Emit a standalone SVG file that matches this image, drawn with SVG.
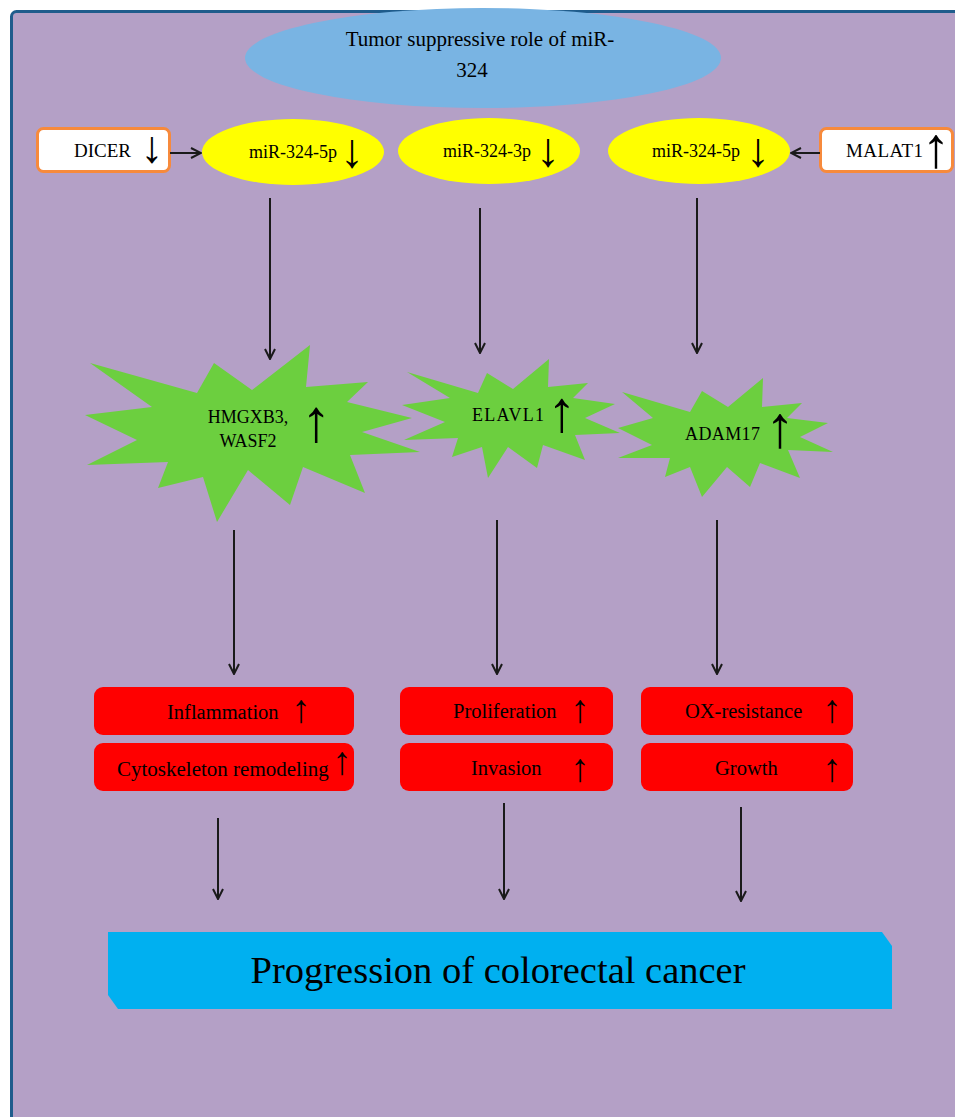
<svg xmlns="http://www.w3.org/2000/svg" width="955" height="1117" viewBox="0 0 955 1117">
<defs>
<style>
.t{font-family:"Liberation Serif","Times New Roman",serif;fill:#000;}
.c{stroke:#1a1a1a;stroke-width:2;fill:none;}
.star{fill:#6ccf3f;}
.red{fill:#ff0000;}
.mir{fill:#ffff00;}
.box{fill:#ffffff;stroke:#f78a3c;stroke-width:3;}
.ar{font-family:"Liberation Serif","Times New Roman",serif;fill:#000;text-anchor:middle;}
</style>
<marker id="ah" viewBox="0 0 12 12" refX="11" refY="6" markerWidth="12" markerHeight="12" markerUnits="userSpaceOnUse" orient="auto">
<path d="M1,1 L11,6 L1,11" fill="none" stroke="#1a1a1a" stroke-width="2"/>
</marker>
</defs>
<rect x="0" y="0" width="955" height="1117" fill="#ffffff"/>
<rect x="11.5" y="11.5" width="1000" height="1200" rx="5" fill="#b4a0c6" stroke="#1f5c8c" stroke-width="3"/>

<g id="title">
<ellipse cx="483" cy="58" rx="238" ry="50" fill="#79b4e3"/>
<text class="t" x="480" y="46" font-size="21" text-anchor="middle">Tumor suppressive role of miR-</text>
<text class="t" x="472" y="77" font-size="21" text-anchor="middle">324</text>
</g>

<g id="dicer">
<rect class="box" x="37.5" y="128.5" width="132" height="43" rx="6"/>
<text class="t" x="74" y="157" font-size="19">DICER</text>
<text class="ar" x="152" y="162" font-size="45">↓</text>
</g>

<g id="mir324-5p-left">
<ellipse class="mir" cx="293" cy="152" rx="91" ry="33"/>
<text class="t" x="249" y="158" font-size="18">miR-324-5p</text>
<text class="ar" x="352" y="167" font-size="48">↓</text>
</g>

<g id="mir324-3p">
<ellipse class="mir" cx="489" cy="151" rx="91" ry="33"/>
<text class="t" x="443" y="157" font-size="18">miR-324-3p</text>
<text class="ar" x="548" y="166" font-size="48">↓</text>
</g>

<g id="mir324-5p-right">
<ellipse class="mir" cx="699" cy="151" rx="91" ry="33"/>
<text class="t" x="652" y="157" font-size="18">miR-324-5p</text>
<text class="ar" x="758" y="166" font-size="48">↓</text>
</g>

<g id="malat1">
<rect class="box" x="820.5" y="128.5" width="132" height="43" rx="6"/>
<text class="t" x="846" y="157" font-size="19" textLength="77" lengthAdjust="spacing">MALAT1</text>
<text class="ar" x="936" y="167" font-size="57">↑</text>
</g>

<g id="hmgxb3">
<polygon class="star" points="90,363 197,393 214,363 252,390 310,345 306,387 368,382 347,402 412,418 362,432 420,452 350,455 365,493 303,467 290,505 248,470 217,522 203,477 158,488 168,462 87,465 137,440 85,415 152,407"/>
<text class="t" x="248" y="423" font-size="18" text-anchor="middle">HMGXB3,</text>
<text class="t" x="248" y="447" font-size="18" text-anchor="middle">WASF2</text>
<text class="ar" x="316" y="441" font-size="60">↑</text>
</g>

<g id="elavl1">
<polygon class="star" points="407,372 478,393 487,373 513,389 549,359 548,387 588,383 573,398 615,404 585,418 620,433 575,435 585,460 543,445 537,468 508,447 488,478 482,447 452,457 458,438 404,440 445,422 402,405 450,398"/>
<text class="t" x="472" y="421" font-size="18" textLength="72" lengthAdjust="spacing">ELAVL1</text>
<text class="ar" x="562" y="431" font-size="58">↑</text>
</g>

<g id="adam17">
<polygon class="star" points="622,392 690,412 702,391 728,407 763,378 762,407 802,403 787,418 828,423 800,437 833,452 788,450 800,478 760,463 750,487 727,467 702,497 690,467 665,477 670,458 618,458 652,445 618,428 653,418"/>
<text class="t" x="685" y="440" font-size="18" textLength="75" lengthAdjust="spacing">ADAM17</text>
<text class="ar" x="780" y="447" font-size="59">↑</text>
</g>

<g id="inflammation">
<rect class="red" x="94" y="687" width="260" height="48" rx="9"/>
<text class="t" x="167" y="719" font-size="20.5">Inflammation</text>
<text class="ar" x="301" y="722" font-size="39">↑</text>
</g>
<g id="cytoskeleton">
<rect class="red" x="94" y="743" width="260" height="48" rx="9"/>
<text class="t" x="117" y="776" font-size="21">Cytoskeleton remodeling</text>
<text class="ar" x="342" y="774" font-size="39">↑</text>
</g>
<g id="proliferation">
<rect class="red" x="400" y="687" width="213" height="48" rx="9"/>
<text class="t" x="453" y="718" font-size="20.5">Proliferation</text>
<text class="ar" x="580" y="722" font-size="39">↑</text>
</g>
<g id="invasion">
<rect class="red" x="400" y="743" width="213" height="48" rx="9"/>
<text class="t" x="471" y="775" font-size="20.5">Invasion</text>
<text class="ar" x="580" y="781" font-size="39">↑</text>
</g>
<g id="ox-resistance">
<rect class="red" x="641" y="687" width="212" height="48" rx="9"/>
<text class="t" x="685" y="718" font-size="20.5">OX-resistance</text>
<text class="ar" x="832" y="722" font-size="39">↑</text>
</g>
<g id="growth">
<rect class="red" x="641" y="743" width="212" height="48" rx="9"/>
<text class="t" x="715" y="775" font-size="20.5">Growth</text>
<text class="ar" x="832" y="781" font-size="39">↑</text>
</g>

<g id="progression">
<polygon points="108,932 882,932 892,946 892,1009 118,1009 108,995" fill="#00b0f0"/>
<text class="t" x="498" y="983" font-size="38.5" text-anchor="middle">Progression of colorectal cancer</text>
</g>

<g id="connectors">
<line class="c" x1="170" y1="153" x2="201" y2="153" marker-end="url(#ah)"/>
<line class="c" x1="820" y1="153" x2="791" y2="153" marker-end="url(#ah)"/>
<line class="c" x1="270" y1="198" x2="270" y2="359" marker-end="url(#ah)"/>
<line class="c" x1="480" y1="208" x2="480" y2="353" marker-end="url(#ah)"/>
<line class="c" x1="697" y1="198" x2="697" y2="353" marker-end="url(#ah)"/>
<line class="c" x1="234" y1="530" x2="234" y2="674" marker-end="url(#ah)"/>
<line class="c" x1="497" y1="520" x2="497" y2="674" marker-end="url(#ah)"/>
<line class="c" x1="717" y1="520" x2="717" y2="674" marker-end="url(#ah)"/>
<line class="c" x1="218" y1="818" x2="218" y2="899" marker-end="url(#ah)"/>
<line class="c" x1="504" y1="803" x2="504" y2="899" marker-end="url(#ah)"/>
<line class="c" x1="741" y1="807" x2="741" y2="901" marker-end="url(#ah)"/>
</g>
</svg>
